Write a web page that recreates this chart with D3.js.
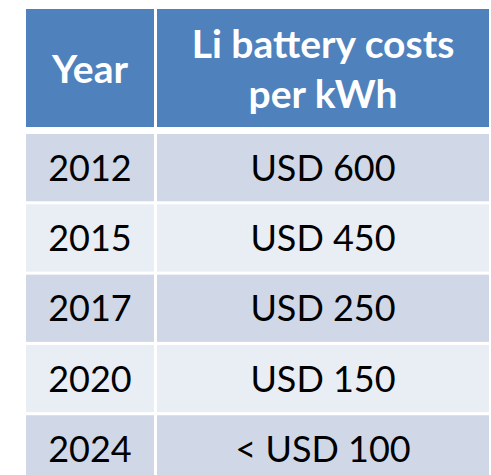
<!DOCTYPE html>
<html>
  <head>
    <style>
      body { margin: 0; background: #fff; }
      svg text { font-family: Lato, "Open Sans", sans-serif; }
    </style>
  </head>
  <body>
    <script src="https://d3js.org/d3.v7.min.js"></script>
    <script>
      // Table data
      const years = ["2012", "2015", "2017", "2020", "2024"];
      const costs = [600, 450, 250, 150, 100];
      const qualifiers = ["", "", "", "", "< "];
      const headers = [["Year"], ["Li battery costs", "per kWh"]];

      const W = 491, H = 475;
      const svg = d3.select("body").append("svg")
        .attr("width", W)
        .attr("height", H);

      // columns
      const x = d3.scaleOrdinal().domain([0, 1]).range([26, 157]);
      const colW = [128, 332];

      // header
      const headTop = 9, headH = 118;
      // body rows
      const y = d3.scaleBand()
        .domain(years)
        .range([134, 134 + 69.7 * years.length])
        .paddingInner(3 / 69.7)
        .paddingOuter(0);

      // header cells
      svg.selectAll("rect.head")
        .data(headers)
        .join("rect")
        .attr("class", "head")
        .attr("x", (d, i) => x(i))
        .attr("y", headTop)
        .attr("width", (d, i) => colW[i])
        .attr("height", headH)
        .attr("fill", "#4F81BD");

      svg.selectAll("text.head")
        .data(headers)
        .join("text")
        .attr("class", "head")
        .attr("x", (d, i) => x(i) + colW[i] / 2)
        .attr("y", headTop + headH / 2)
        .attr("text-anchor", "middle")
        .attr("fill", "#fff")
        .attr("font-weight", "bold")
        .attr("font-size", 39)
        .each(function(lines) {
          const t = d3.select(this);
          const lh = 50;
          lines.forEach((s, k) => {
            t.append("tspan")
              .attr("x", t.attr("x"))
              .attr("y", headTop + 58.5 + 15.5 + (k - (lines.length - 1) / 2) * lh)
              .text(s);
          });
        });

      // body cells
      const rows = years.map((yr, i) => ({
        year: yr,
        cost: qualifiers[i] + "USD " + costs[i],
        i: i
      }));

      const g = svg.selectAll("g.row")
        .data(rows)
        .join("g")
        .attr("class", "row")
        .attr("transform", d => `translate(0,${y(d.year)})`);

      [0, 1].forEach(c => {
        g.append("rect")
          .attr("x", x(c))
          .attr("y", 0)
          .attr("width", colW[c])
          .attr("height", y.bandwidth())
          .attr("fill", d => d.i % 2 === 0 ? "#D0D8E8" : "#E9EDF4");
        g.append("text")
          .attr("x", x(c) + colW[c] / 2)
          .attr("y", y.bandwidth() / 2 + 13)
          .attr("text-anchor", "middle")
          .attr("fill", "#000")
          .attr("font-size", 36)
          .text(d => c === 0 ? d.year : d.cost);
      });
    </script>
  </body>
</html>
